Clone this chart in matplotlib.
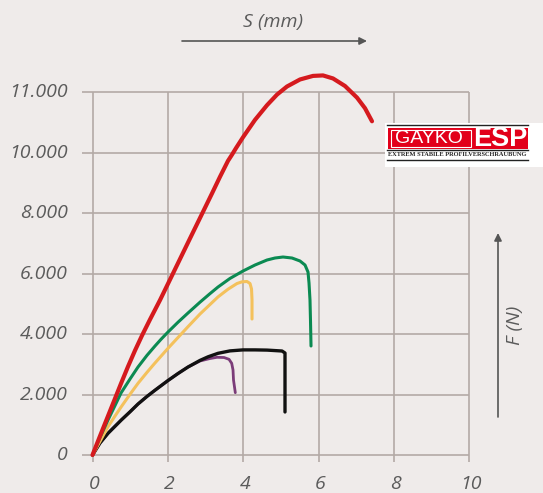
import numpy as np
import matplotlib
matplotlib.use("Agg")
import matplotlib.pyplot as plt
from matplotlib.patches import Rectangle

# ---------------- data ----------------
x_ticks = [0, 2, 4, 6, 8, 10]
x_tick_labels = ["0", "2", "4", "6", "8", "10"]
y_ticks = [0, 2000, 4000, 6000, 8000, 10000, 11000]
y_tick_labels = ["0", "2.000", "4.000", "6.000", "8.000", "10.000", "11.000"]

red_s = [0, 0.199, 0.411, 0.597, 0.756, 0.942, 1.127, 1.313, 1.525, 1.790, 2.056,
         2.321, 2.586, 2.931, 3.170, 3.382, 3.594, 3.700, 3.806, 3.992, 4.310, 4.629, 4.894,
         5.159, 5.504, 5.849, 6.114, 6.379, 6.698, 7.016, 7.228, 7.414]
red_f = [0, 628, 1289, 1868, 2364, 2926, 3455, 3951, 4480, 5120, 5800,
         6480, 7160, 8040, 8650, 9200, 9726, 9930, 10073, 10253, 10540, 10783, 10958,
         11092, 11208, 11267, 11275, 11225, 11100, 10908, 10733, 10517]

green_s = [0, 0.199, 0.411, 0.597, 0.756, 0.995, 1.207, 1.446, 1.658, 1.817, 2.003, 2.268,
           2.533, 2.851, 3.117, 3.329, 3.647, 3.992, 4.310, 4.629, 4.841, 5.053, 5.292,
           5.504, 5.637, 5.716, 5.743, 5.769, 5.782, 5.796]
green_f = [0, 579, 1157, 1636, 2050, 2513, 2909, 3296, 3604, 3825, 4066, 4390,
           4695, 5052, 5336, 5554, 5838, 6083, 6281, 6447, 6513, 6546, 6513,
           6414, 6281, 6050, 5686, 5124, 4463, 3604]

yellow_s = [0, 0.199, 0.411, 0.597, 0.764, 0.995, 1.207, 1.446, 1.650, 2.003, 2.268, 2.533,
            2.851, 3.117, 3.329, 3.594, 3.833, 3.966, 4.098, 4.178, 4.218, 4.231, 4.231, 4.231]
yellow_f = [0, 453, 936, 1289, 1597, 2007, 2370, 2734, 3032, 3528, 3885, 4242,
            4661, 4976, 5227, 5481, 5670, 5726, 5736, 5670, 5488, 5124, 4794, 4496]

black_s = [0, 0.199, 0.411, 0.597, 0.764, 0.995, 1.207, 1.446, 1.658, 2.003, 2.268, 2.533,
           2.851, 3.064, 3.329, 3.647, 3.992, 4.310, 4.629, 5.027, 5.106, 5.106]
black_f = [0, 397, 717, 949, 1157, 1428, 1686, 1937, 2142, 2463, 2694, 2909,
           3127, 3246, 3362, 3442, 3475, 3475, 3468, 3438, 3372, 1422]

purple_s = [0, 0.199, 0.411, 0.597, 0.764, 0.995, 1.207, 1.446, 1.658, 2.003, 2.268, 2.533,
            2.851, 3.117, 3.302, 3.488, 3.621, 3.692, 3.727, 3.740, 3.788]
purple_f = [0, 397, 717, 949, 1157, 1428, 1686, 1937, 2142, 2463, 2694, 2909,
            3108, 3190, 3230, 3223, 3164, 3032, 2810, 2480, 2060]

# ---------------- style ----------------
BG = "#efebea"
GRID = "#b3aaa6"
TXT = "#5b5b5b"
FONT = "Open Sans"

W, H = 543, 493
fig = plt.figure(figsize=(W / 100, H / 100), dpi=100, facecolor=BG)

def fwd(y):
    y = np.asarray(y, dtype=float)
    return np.where(y <= 10000, y / 2000.0, 5 + (y - 10000) / 1000.0)

def inv(u):
    u = np.asarray(u, dtype=float)
    return np.where(u <= 5, u * 2000.0, 10000 + (u - 5) * 1000.0)

# axes in pixel placement
ax_l, ax_r, ax_t, ax_b = 80, 475, 60, 465
ax = fig.add_axes([ax_l / W, (H - ax_b) / H, (ax_r - ax_l) / W, (ax_b - ax_t) / H])
ax.set_facecolor(BG)
ax.set_yscale("function", functions=(fwd, inv))
ax.set_xlim(-0.332, 10.146)
ax.set_ylim(-331, 11530)
for s in ax.spines.values():
    s.set_visible(False)
ax.set_xticks([])
ax.set_yticks([])

# grid (with stubs extending past the axes origin)
for yt in y_ticks:
    ax.plot([-0.28, 10.0], [yt, yt], color=GRID, lw=1.2, zorder=1, solid_capstyle="butt")
for xt in x_ticks:
    ax.plot([xt, xt], [-231, 11000], color=GRID, lw=1.2, zorder=1, solid_capstyle="butt")

# tick labels
for yt, lab in zip(y_ticks, y_tick_labels):
    ax.text(-0.66, yt, lab, ha="right", va="center", fontsize=14, style="italic",
            color=TXT, family=FONT)
for xt, lab in zip(x_ticks, x_tick_labels):
    ax.text(xt + 0.05, -1120, lab, ha="center", va="baseline", fontsize=14, style="italic",
            color=TXT, family=FONT)

# curves
kw = dict(solid_joinstyle="round", solid_capstyle="round")
ax.plot(purple_s, purple_f, color="#7b3c79", lw=2.0, zorder=3, **kw)
ax.plot(black_s, black_f, color="#111111", lw=2.4, zorder=4, **kw)
ax.plot(yellow_s, yellow_f, color="#f4c15c", lw=2.2, zorder=4, **kw)
ax.plot(green_s, green_f, color="#0b8a52", lw=2.2, zorder=5, **kw)
ax.plot(red_s, red_f, color="#d51a1e", lw=3.0, zorder=6, **kw)

# axis arrows and labels
ax.annotate("", xy=(367, H - 41), xytext=(182, H - 41), xycoords="figure pixels",
            textcoords="figure pixels",
            arrowprops=dict(arrowstyle="-|>", color="#555555", lw=1.2, mutation_scale=11,
                            shrinkA=0, shrinkB=0))
fig.text(273 / W, 1 - 22 / H, "S (mm)", ha="center", va="center", fontsize=14,
         style="italic", color=TXT, family=FONT)
ax.annotate("", xy=(498, H - 233), xytext=(498, H - 417), xycoords="figure pixels",
            textcoords="figure pixels",
            arrowprops=dict(arrowstyle="-|>", color="#555555", lw=1.2, mutation_scale=11,
                            shrinkA=0, shrinkB=0))
fig.text(515 / W, 1 - 325 / H, "F (N)", ha="center", va="center", fontsize=14,
         style="italic", color=TXT, family=FONT, rotation=90)

# logo
lx0, lx1, ly0, ly1 = 385, 543, 123, 167
lax = fig.add_axes([lx0 / W, (H - ly1) / H, (lx1 - lx0) / W, (ly1 - ly0) / H])
lax.set_xlim(lx0, lx1)
lax.set_ylim(ly1, ly0)
lax.set_facecolor("white")
lax.set_xticks([]); lax.set_yticks([])
for s in lax.spines.values():
    s.set_visible(False)
lax.plot([387, 528], [125, 125], color="#222222", lw=1.0)
lax.add_patch(Rectangle((388, 127.5), 140, 21.5, facecolor="#e2001a", edgecolor="none"))
lax.add_patch(Rectangle((390.5, 130), 80, 16.5, facecolor="none", edgecolor="white", lw=0.8))
lax.text(429, 138.5, "GAYKO", color="white", fontsize=14, ha="center", va="center",
         family="Liberation Sans")
lax.text(500, 138.5, "ESP", color="white", fontsize=19.5, fontweight="bold", ha="center",
         va="center", family="Liberation Sans")
lax.plot([387, 528], [150, 150], color="#222222", lw=1.0)
lax.text(457.5, 154.8, "EXTREM STABILE PROFILVERSCHRAUBUNG", color="#222222", fontsize=4.6,
         fontweight="bold", ha="center", va="center", family="Liberation Serif")
lax.plot([387, 528], [159.5, 159.5], color="#222222", lw=1.0)

fig.savefig("out.png", dpi=100, facecolor=BG)
